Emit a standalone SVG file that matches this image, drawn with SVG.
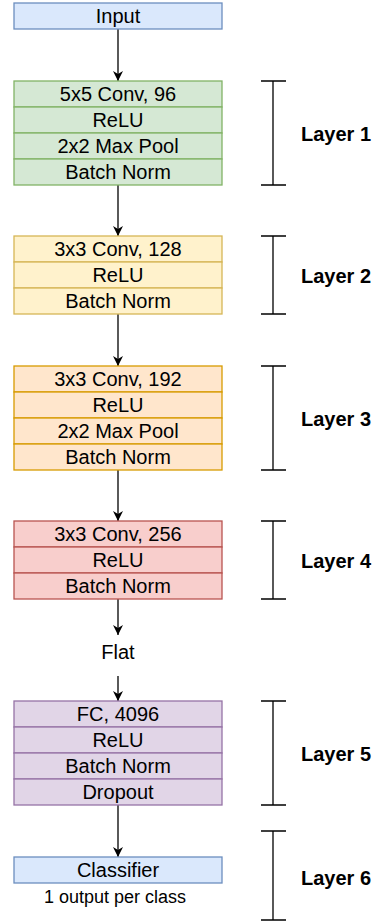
<svg xmlns="http://www.w3.org/2000/svg" width="379" height="922" viewBox="0 0 379 922">
<style>
  text { font-family: "Liberation Sans", Arial, Helvetica, sans-serif; fill: #000; }
  .t { font-size: 20px; text-anchor: middle; }
  .lbl { font-size: 20px; font-weight: bold; }
  .small { font-size: 18px; text-anchor: middle; }
  .blue rect { fill: #dae8fc; stroke: #6c8ebf; stroke-width: 1.3; }
  .green rect { fill: #d5e8d4; stroke: #82b366; stroke-width: 1.3; }
  .yellow rect { fill: #fff2cc; stroke: #d6b656; stroke-width: 1.3; }
  .orange rect { fill: #ffe6cc; stroke: #d79b00; stroke-width: 1.3; }
  .red rect { fill: #f8cecc; stroke: #b85450; stroke-width: 1.3; }
  .purple rect { fill: #e1d5e7; stroke: #9673a6; stroke-width: 1.3; }
  .conn line { stroke: #000; stroke-width: 1.3; marker-end: url(#arr); }
  .br path { fill: none; stroke: #000; stroke-width: 1.3; }
</style>
<defs>
  <marker id="arr" viewBox="0 0 10 10" refX="10" refY="5" markerWidth="10" markerHeight="10" markerUnits="userSpaceOnUse" orient="auto">
    <path d="M0,0 L10,5 L0,10 L3,5 z" fill="#000"/>
  </marker>
</defs>
<rect width="379" height="922" fill="#fff"/>

<g id="connectors" class="conn">
  <line x1="118" y1="29" x2="118" y2="81"/>
  <line x1="118" y1="185" x2="118" y2="236"/>
  <line x1="118" y1="314" x2="118" y2="366"/>
  <line x1="118" y1="470" x2="118" y2="521"/>
  <line x1="118" y1="599" x2="118" y2="635"/>
  <line x1="118" y1="676" x2="118" y2="701"/>
  <line x1="118" y1="805" x2="118" y2="857"/>
</g>

<g id="input" class="blue">
  <rect x="14" y="3" width="208" height="26"/>
  <text class="t" x="118" y="23">Input</text>
</g>

<g id="layer1" class="green">
  <rect x="14" y="81" width="208" height="26"/>
  <rect x="14" y="107" width="208" height="26"/>
  <rect x="14" y="133" width="208" height="26"/>
  <rect x="14" y="159" width="208" height="26"/>
  <text class="t" x="118" y="101">5x5 Conv, 96</text>
  <text class="t" x="118" y="127">ReLU</text>
  <text class="t" x="118" y="153">2x2 Max Pool</text>
  <text class="t" x="118" y="179">Batch Norm</text>
</g>

<g id="layer2" class="yellow">
  <rect x="14" y="236" width="208" height="26"/>
  <rect x="14" y="262" width="208" height="26"/>
  <rect x="14" y="288" width="208" height="26"/>
  <text class="t" x="118" y="256">3x3 Conv, 128</text>
  <text class="t" x="118" y="282">ReLU</text>
  <text class="t" x="118" y="308">Batch Norm</text>
</g>

<g id="layer3" class="orange">
  <rect x="14" y="366" width="208" height="26"/>
  <rect x="14" y="392" width="208" height="26"/>
  <rect x="14" y="418" width="208" height="26"/>
  <rect x="14" y="444" width="208" height="26"/>
  <text class="t" x="118" y="386">3x3 Conv, 192</text>
  <text class="t" x="118" y="412">ReLU</text>
  <text class="t" x="118" y="438">2x2 Max Pool</text>
  <text class="t" x="118" y="464">Batch Norm</text>
</g>

<g id="layer4" class="red">
  <rect x="14" y="521" width="208" height="26"/>
  <rect x="14" y="547" width="208" height="26"/>
  <rect x="14" y="573" width="208" height="26"/>
  <text class="t" x="118" y="541">3x3 Conv, 256</text>
  <text class="t" x="118" y="567">ReLU</text>
  <text class="t" x="118" y="593">Batch Norm</text>
</g>

<g id="flat">
  <text class="t" x="118" y="659">Flat</text>
</g>

<g id="layer5" class="purple">
  <rect x="14" y="701" width="208" height="26"/>
  <rect x="14" y="727" width="208" height="26"/>
  <rect x="14" y="753" width="208" height="26"/>
  <rect x="14" y="779" width="208" height="26"/>
  <text class="t" x="118" y="721">FC, 4096</text>
  <text class="t" x="118" y="747">ReLU</text>
  <text class="t" x="118" y="773">Batch Norm</text>
  <text class="t" x="118" y="799">Dropout</text>
</g>

<g id="classifier" class="blue">
  <rect x="14" y="857" width="208" height="26"/>
  <text class="t" x="118" y="877">Classifier</text>
  <text class="small" x="115" y="903">1 output per class</text>
</g>

<g id="brackets" class="br">
  <path d="M261,81 H286 M273,81 V185 M261,185 H286"/>
  <path d="M261,236 H286 M273,236 V314 M261,314 H286"/>
  <path d="M261,366 H286 M273,366 V470 M261,470 H286"/>
  <path d="M261,521 H286 M273,521 V599 M261,599 H286"/>
  <path d="M261,701 H286 M273,701 V805 M261,805 H286"/>
  <path d="M261,831 H286 M273,831 V920 M261,920 H286"/>
</g>

<g id="labels">
  <text class="lbl" x="301" y="140.5">Layer 1</text>
  <text class="lbl" x="301" y="282.5">Layer 2</text>
  <text class="lbl" x="301" y="425.5">Layer 3</text>
  <text class="lbl" x="301" y="567.5">Layer 4</text>
  <text class="lbl" x="301" y="761">Layer 5</text>
  <text class="lbl" x="301" y="885">Layer 6</text>
</g>
</svg>
